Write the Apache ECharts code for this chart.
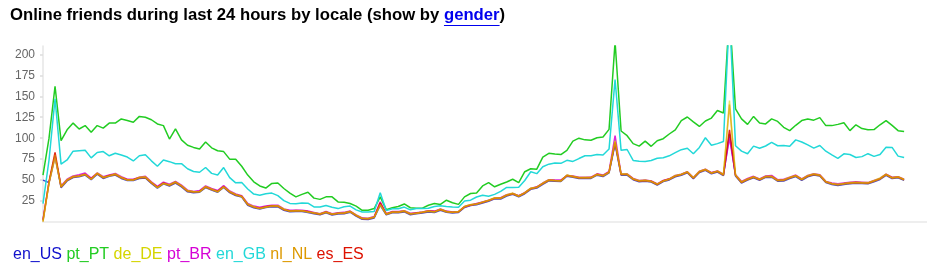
<!DOCTYPE html>
<html><head><meta charset="utf-8">
<script src="https://cdn.jsdelivr.net/npm/echarts@6/dist/echarts.min.js"></script>
<style>html,body{margin:0;padding:0;background:#fff}#c{width:927px;height:275px}</style>
</head><body><div id="c"></div>
<script>
// ---- data (one sample every 10 minutes) ----
const locales = ['en_US','pt_PT','de_DE','pt_BR','en_GB','nl_NL','es_ES'];
const colors  = ['#1111cc','#22cc22','#d5d500','#d500d5','#22d8d8','#dd9900','#dd1100'];
const yTicks  = [25,50,75,100,125,150,175,200];

const pt_PT = [56,100,162,97,110,118,111,115,107,115,
112,118,118,123,121,119,126,125,122,117,
115,99,111,98,91.5,89,87,95.5,88.5,85,
84,75,75,66.5,56,48,43,40.5,46,46.5,
40,34.5,30,33,35.5,28.5,27,30,30,24,
23.5,22,19,14,14,16,30,14.7,17,18.5,
21.5,17,16.5,16.5,20,22,21,26,23,21,
30,34,34.6,43,47,42,45,47.7,51,47,
60,63.5,63,77.5,82,81,80.5,85.5,96.5,100,
98,97.5,100.5,101.5,110.5,215,108.6,103,93.5,90.5,
96.5,90.3,97,99.4,105,110,121,125.3,119.5,114,
120.5,124,133,130,250,135,123,116.5,126,118,
117,123,120,113,109,115.4,121,123,121.5,124.5,
115,115,116.5,118.5,109,116,111.5,110,110.3,116,
121,115.3,109,108];

const en_GB = [22,74,147,69,74,84.5,85,85.5,76.5,83,
84,79,82,80,77.5,72.8,79,80.3,73,66.5,
74,72,69.6,69.6,63.5,60.3,59.4,65,58,56,
65,53,46.7,47,39.4,33.3,32,33.8,34.5,31.5,
25.5,22.2,21.8,22.8,22.4,18,17.8,19.6,17.5,16,
18.3,19,14.5,12,11.9,12.5,35,13.6,15.9,15.9,
17.8,14.5,16,16.2,16.3,18.5,19.5,18.5,17.8,17.5,
25,26,29.8,32,30.8,33,36.5,41.3,41.2,41.5,
49.5,60,57.7,66,69,70.3,70,73.6,72.3,75.7,
79,79,80.5,80,87,170,85.5,86.5,73.5,72.4,
72.3,73.4,76,76.7,79,82.8,86.3,88,81.5,89,
100.5,91.5,93.5,96,250,91,84.5,81.5,90.5,88,
90.7,95,91,91.3,90.3,98,95.5,92,88.2,91.2,
84.5,80.2,76,81.3,80.5,77,78,81.5,78.3,80.6,
89.2,89,78.6,77];

const es_ES = [2,48,83,42,50,54,55,57,51.5,58,
53,55.5,57,53,50.5,50.5,53,53.5,47,41.5,
46.5,44,47.7,43,37,36,36.5,42,39,36.5,
42.3,36,32.5,30.8,21,18,16.5,18.2,19.3,19,
15,13.2,13.6,13.5,12.4,10.8,9.5,11.9,9.3,10.5,
10.7,12.7,8,4.3,4,5.8,22.7,9.5,11.9,11.9,
13,9.7,10.7,11.7,13,12.4,15,12.5,11.7,12.3,
18.4,20.6,21.6,23.6,25.8,28.6,28.5,32,34,31,
34.7,40,41.5,46,50,49.6,49.3,55.7,54.3,52.9,
52.9,53,56.9,55.3,59.5,95,56.9,57,51.4,49,
49.6,48.6,45,49.2,51.2,55,56.8,59.7,52.6,60,
62.6,58.5,60.6,56.3,110,55.9,47.4,51,53.7,50.7,
54.2,54.4,49.7,50,52.9,55.3,50.8,55,57,55.8,
48,45.8,44.6,45.8,46.5,47.2,46.8,46.5,49.1,51.8,
56.7,52.8,53.7,50.6];

const pt_BR = [3,47,78,43,51,55,56.5,58.5,52.5,58.5,
54,56,58,54,51,51,53.5,54.5,48,42.5,
47.5,45,48.5,44,38,36.5,37.5,43,40,37.5,
43.5,37,33.5,31.5,22,19,17.5,19,20,20,
15.5,14,14,14,13,11.5,10,12.5,10,11,
11.5,13,8.5,5,4.5,6.5,24,10,12.5,12.5,
13.5,10.5,11,12,13.5,13,15.5,13,12,12.5,
18,20,22,24,26,28,29,32.5,34,31.5,
35,40,42,46.5,50.5,50,50,55.5,55,53.5,
53.5,53.5,57.5,56,60.5,103,57,57.5,52,49.5,
50,49,45.5,49.5,51.5,55.5,57,60,53,60.5,
63,59,61,57,100,56.5,48.5,52,54.5,51.5,
55,55.5,50.5,51,53.5,56,51.5,55.5,57.5,56.5,
48.5,46.5,45.5,46.5,47.5,48,47.5,47,49.5,52,
57,53.5,54,51];

const de_DE = [1,46,76,42.5,50.5,54.5,55,57,51,58.5,
53.5,55,57.5,53.5,50,50,53.5,54,47.5,41,
46,44.5,48,43.5,37.5,36.5,36,42.5,39.5,36,
42,36.5,33,30.5,21.5,18.5,16,18,19,19.5,
15.5,13,13.5,13.5,12,11,10,12,9.5,10.5,
11,12.5,8.5,4.5,4.5,6,20,9.5,12,12,
13.5,10,10.5,12,13,12,15.5,12.5,11.5,12.5,
18.5,21,21.5,24,26,29,28.5,32.5,34.5,31,
35,40.5,41.5,46.5,50.5,49.5,49,56,54.5,53,
53.5,53,57,55.5,59.5,97,57.5,57.5,51.5,49.5,
50,48.5,45.5,49,51.5,55.5,57,60,53,60.5,
63,58.5,61,57,145,56.5,48,51.5,54,51,
54.5,54.5,50,50.5,53.5,55.5,51,55.5,57.5,56,
48.5,46,45,46,47,47.5,47,47,49.5,52.5,
57,53,54,51];

const nl_NL = [0,47,80,41.5,49.5,53.5,54.5,56.5,51,57.5,
52.5,55,56.5,52.5,50,50,52.5,53,46.5,41,
46,43.5,47,42.5,36.5,35.5,36,41.5,38.5,36,
41.8,35.5,32,30.3,20.5,17.5,16,17.7,18.8,18.5,
14.5,12.7,13.1,13,11.9,10.3,9,11.4,8.8,10,
10.2,12.2,7.5,3.8,3.5,5.3,21,9,11.4,11.4,
12.5,9.2,10.2,11.2,12.5,11.9,14.5,12,11.2,11.8,
17.9,20.1,21.1,23.1,25.3,28.1,28,31.5,33.5,30.5,
34.2,39.5,41,45.5,49.5,49.1,48.8,55.2,53.8,52.4,
52.4,52.5,56.4,54.8,59,96,56.4,56.5,50.9,48.5,
49.1,48.1,44.5,48.7,50.7,54.5,56.3,59.2,52.1,59.5,
62.1,58,60.1,55.8,140,55.4,46.9,50.5,53.2,50.2,
53.7,53.9,49.2,49.5,52.4,54.8,50.3,54.5,56.5,55.3,
47.5,45.3,44.1,45.3,46,46.7,46.3,46,48.6,51.3,
56.2,52.3,53.2,50.1];

const en_US = [50,47,79,41,49,53,54,56,50.5,57,
52,54.5,56,52,49.5,49.5,52,52.5,46,40.5,
45.5,43,46.5,42,36,35,35.5,41,38,35.5,
41.3,35,31.5,29.8,20,17,15.5,17.2,18.3,18,
14,12.2,12.6,12.5,11.4,9.8,8.5,10.9,8.3,9.5,
9.7,11.7,7,3.3,3,4.8,20,8.5,10.9,10.9,
12,8.7,9.7,10.7,12,11.4,14,11.5,10.7,11.3,
17.4,19.6,20.6,22.6,24.8,27.6,27.5,31,33,30,
33.7,39,40.5,45,49,48.6,48.3,54.7,53.3,51.9,
51.9,52,55.9,54.3,58.5,93,55.9,56,50.4,48,
48.6,47.6,44,48.2,50.2,54,55.8,58.7,51.6,59,
61.6,57.5,59.6,55.3,105,54.9,46.4,50,52.7,49.7,
53.2,53.4,48.7,49,51.9,54.3,49.8,54,56,54.8,
47,44.8,43.6,44.8,45.5,46.2,45.8,45.5,48.1,50.8,
55.7,51.8,52.7,49.6];

const seriesValues = {en_US, pt_PT, de_DE, pt_BR, en_GB, nl_NL, es_ES};
const stepMinutes = 10;

// ---- layout / style ----
const FONT = 'Liberation Sans';
const TITLE_SIZE = 16.7;
const TITLE_LEFT = 10;
const titleMain = 'Online friends during last 24 hours by locale (show by ';
const titleLink = 'gender';
const titleEnd = ')';

const mctx = document.createElement('canvas').getContext('2d');
mctx.font = 'bold ' + TITLE_SIZE + 'px ' + FONT;
const w1 = mctx.measureText(titleMain).width;
const w2 = mctx.measureText(titleLink).width;

// drawing order (z) and opacity per locale: the near-identical low lines blend into an orange-brown band
const lineZ = {en_US: 2, pt_PT: 2, de_DE: 3, pt_BR: 2, en_GB: 2, nl_NL: 4, es_ES: 2};
const lineOpacity = {en_US: 0.8, pt_PT: 1, de_DE: 0.6, pt_BR: 0.85, en_GB: 1, nl_NL: 0.65, es_ES: 0.9};

const chart = echarts.init(document.getElementById('c'), null, {renderer: 'canvas'});
const option = {
  animation: false,
  backgroundColor: '#fff',
  title: {
    text: '{a|' + titleMain + '}{b|' + titleLink + '}{a|' + titleEnd + '}',
    left: TITLE_LEFT, top: 7, padding: 0,
    textStyle: {
      fontFamily: FONT, fontSize: TITLE_SIZE, fontWeight: 'bold',
      rich: {
        a: {fontFamily: FONT, fontSize: TITLE_SIZE, fontWeight: 'bold', color: '#000'},
        b: {fontFamily: FONT, fontSize: TITLE_SIZE, fontWeight: 'bold', color: '#0000ee'}
      }
    }
  },
  graphic: [{
    type: 'line', silent: true,
    shape: {x1: TITLE_LEFT + w1, y1: 25.5, x2: TITLE_LEFT + w1 + w2, y2: 25.5},
    style: {stroke: '#0000ee', lineWidth: 1}
  }],
  legend: {
    left: 8, top: 247, padding: 0,
    icon: 'none', itemWidth: 0, itemHeight: 14, itemGap: -0.5,
    selectedMode: false,
    textStyle: {fontFamily: FONT, fontSize: 16},
    data: locales.map((n, k) => ({name: n, textStyle: {color: colors[k]}}))
  },
  grid: {left: 43, right: 0, top: 46, bottom: 53, containLabel: false},
  xAxis: {
    type: 'value', min: 0, max: 1468,
    axisLine: {show: true, lineStyle: {color: '#eeeeee', width: 2}},
    axisTick: {show: false}, axisLabel: {show: false}, splitLine: {show: false}
  },
  yAxis: {
    type: 'value', min: 0, max: 210,
    axisLine: {show: true, lineStyle: {color: '#e6e6e6', width: 1.5}},
    axisTick: {show: true, length: 3, customValues: yTicks, lineStyle: {color: '#dddddd', width: 1.5}},
    axisLabel: {customValues: yTicks, margin: 8, color: '#666', fontSize: 12, fontFamily: FONT},
    splitLine: {show: false}
  },
  series: locales.map((name, k) => ({
    name, type: 'line', z: lineZ[name],
    data: seriesValues[name].map((v, i) => [i * stepMinutes, v]),
    showSymbol: false, symbol: 'none',
    itemStyle: {color: colors[k]},
    lineStyle: {width: 1.5, color: colors[k], opacity: lineOpacity[name]}
  }))
};
chart.setOption(option);
</script>
</body></html>
